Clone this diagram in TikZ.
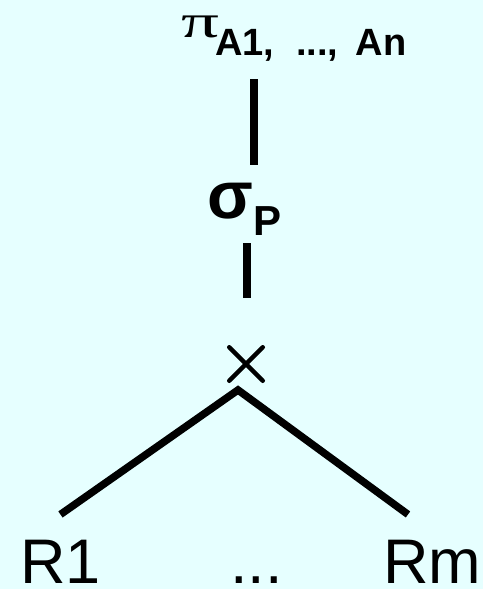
\documentclass[tikz,border=0pt]{standalone}
\usepackage{fontspec}
\setmainfont{Liberation Sans}
\newfontfamily\greekserif{Liberation Serif}
\usepackage{tikz}
\usetikzlibrary{shapes.misc,positioning}
\definecolor{bgcyan}{RGB}{230,255,255}

\begin{document}
\begin{tikzpicture}[
    x=1pt, y=-1pt,
    opnode/.style={inner sep=0pt, anchor=base west},
    relnode/.style={inner sep=0pt, anchor=base west, font=\fontsize{63}{63}\selectfont},
    myedge/.style={line width=7.5pt}
]
\fill[bgcyan] (0,0) rectangle (483,589);
\useasboundingbox (0,0) rectangle (483,589);

% operators
\node[opnode] (proj) at (181,37) {\makebox[34pt][l]{\greekserif\fontsize{47}{47}\selectfont\scalebox{1.6}[1]{π}}\raisebox{-18pt}{\fontsize{38}{38}\selectfont\bfseries A1,\hspace{22pt}...,\hspace{17pt}An}};
\node[opnode] (sel) at (207,218) {\makebox[46pt][l]{\fontsize{67}{67}\selectfont\bfseries σ}\raisebox{-17pt}{\fontsize{42}{42}\selectfont\bfseries P}};
\node[draw, cross out, line width=4.5pt, line cap=round, minimum size=29pt, inner sep=0pt] (cross) at (246,364) {};

% relations
\node[relnode] (r1) at (20,583) {R1};
\node[relnode] (dots) at (230,583) {...};
\node[relnode] (rm) at (383,583) {Rm};

\coordinate (p1) at (254,79);
\coordinate (p2) at (254,165);
\coordinate (s1) at (247,243);
\coordinate (s2) at (247,298);
\coordinate (apex) at (238,390);

\draw[myedge] (p1) -- (p2);
\draw[myedge] (s1) -- (s2);
\draw[myedge] ([yshift=25pt]r1.north) -- (apex) -- ([xshift=25pt,yshift=25pt]rm.north west);
\end{tikzpicture}
\end{document}
